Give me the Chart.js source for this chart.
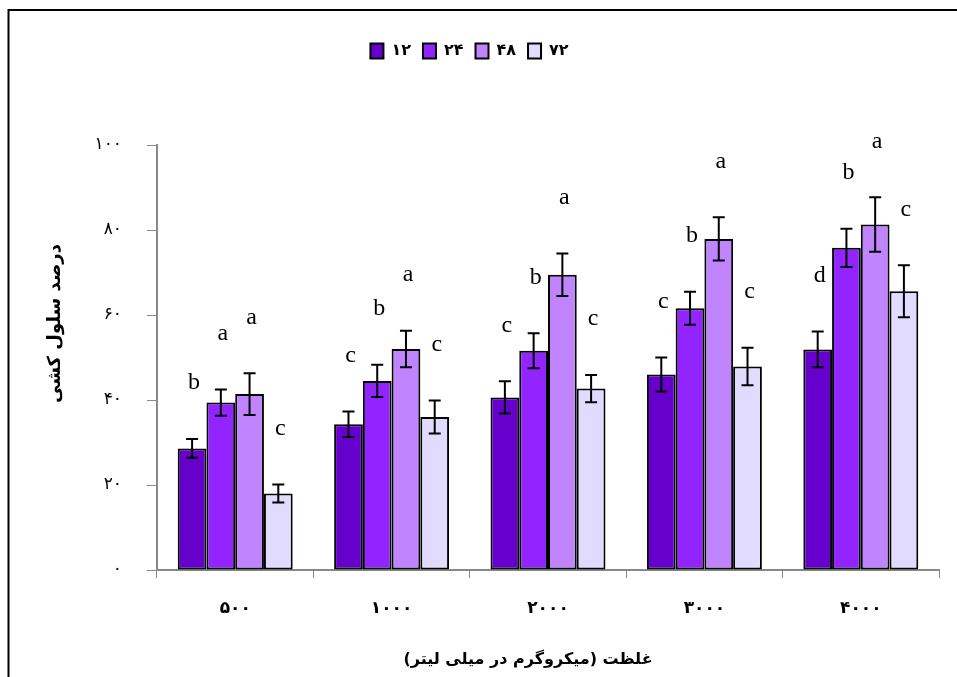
<!DOCTYPE html>
<html>
<head>
<meta charset="utf-8">
<script src="https://cdn.jsdelivr.net/npm/chart.js@4"></script>
<style>
  html, body { margin: 0; padding: 0; background: #fff; }
  #wrap { width: 957px; height: 677px; position: relative; }
</style>
</head>
<body>
<div id="wrap"><canvas id="killChart"></canvas></div>
<script>
// concentrations (x) and exposure times (series)
const concentrations = ["۵۰۰", "۱۰۰۰", "۲۰۰۰", "۳۰۰۰", "۴۰۰۰"];
const hours = ["۱۲", "۲۴", "۴۸", "۷۲"];

// cell kill percent
const kill12 = [28.6, 34.3, 40.6, 46.0, 51.9];
const kill24 = [39.4, 44.5, 51.6, 61.6, 75.8];
const kill48 = [41.4, 52.0, 69.5, 77.9, 81.3];
const kill72 = [18.0, 36.0, 42.7, 47.9, 65.6];

// error bar half-lengths
const err12 = [2.2, 3.0, 3.8, 4.0, 4.2];
const err24 = [3.1, 3.8, 4.1, 3.9, 4.5];
const err48 = [4.9, 4.3, 5.0, 5.1, 6.4];
const err72 = [2.1, 3.9, 3.2, 4.4, 6.1];

// significance letters
const sig12 = ["b", "c", "c", "c", "d"];
const sig24 = ["a", "b", "b", "b", "b"];
const sig48 = ["a", "a", "a", "a", "a"];
const sig72 = ["c", "c", "c", "c", "c"];

const yTickLabels = ["۰", "۲۰", "۴۰", "۶۰", "۸۰", "۱۰۰"];
const yTitle = "درصد سلول کشی";
const xTitle = "غلظت (میکروگرم در میلی لیتر)";

const faFont = '"DejaVu Sans", sans-serif';

// error bars + letters on top of each bar
const errorBars = {
  id: "errorBars",
  afterDatasetsDraw(chart) {
    const ctx = chart.ctx;
    const yScale = chart.scales.y;
    chart.data.datasets.forEach((ds, i) => {
      const meta = chart.getDatasetMeta(i);
      meta.data.forEach((bar, j) => {
        const v = ds.data[j];
        const e = ds.errors[j];
        const top = yScale.getPixelForValue(v + e);
        const bot = yScale.getPixelForValue(v - e);
        ctx.save();
        ctx.strokeStyle = "#000";
        ctx.lineWidth = 2;
        ctx.beginPath();
        ctx.moveTo(bar.x, top);
        ctx.lineTo(bar.x, bot);
        ctx.moveTo(bar.x - 6, top);
        ctx.lineTo(bar.x + 6, top);
        ctx.moveTo(bar.x - 6, bot);
        ctx.lineTo(bar.x + 6, bot);
        ctx.stroke();
        ctx.fillStyle = "#000";
        ctx.font = '24px "Liberation Serif", serif';
        ctx.textAlign = "center";
        ctx.textBaseline = "middle";
        ctx.fillText(ds.letters[j], bar.x + 2, top - 56);
        ctx.restore();
      });
    });
  },
};

// axis titles and the frame lines
const decorations = {
  id: "decorations",
  afterDraw(chart) {
    const ctx = chart.ctx;
    const area = chart.chartArea;
    ctx.save();
    ctx.strokeStyle = "#000";
    ctx.lineWidth = 2;
    ctx.beginPath();
    ctx.moveTo(8.5, chart.height);
    ctx.lineTo(8.5, 10);
    ctx.lineTo(chart.width, 10);
    ctx.stroke();

    ctx.fillStyle = "#000";
    ctx.textAlign = "center";
    ctx.textBaseline = "middle";
    ctx.font = "bold 16px " + faFont;
    ctx.fillText(xTitle, (area.left + area.right) / 2 - 20, 660);

    ctx.translate(55, (area.top + area.bottom) / 2 - 34);
    ctx.rotate(-Math.PI / 2);
    ctx.font = "bold 18px " + faFont;
    ctx.fillText(yTitle, 0, 0);
    ctx.restore();
  },
};

// extra room under the legend
const legendGap = {
  id: "legendGap",
  beforeInit(chart) {
    const fit = chart.legend.fit;
    chart.legend.fit = function () {
      fit.call(this);
      this.height += 76;
    };
  },
};

const ctx = document.getElementById("killChart").getContext("2d");
new Chart(ctx, {
  type: "bar",
  data: {
    labels: concentrations,
    datasets: [
      { label: hours[0], data: kill12, errors: err12, letters: sig12, backgroundColor: "#6600cc" },
      { label: hours[1], data: kill24, errors: err24, letters: sig24, backgroundColor: "#9124ff" },
      { label: hours[2], data: kill48, errors: err48, letters: sig48, backgroundColor: "#c184ff" },
      { label: hours[3], data: kill72, errors: err72, letters: sig72, backgroundColor: "#e1dbff" },
    ].map((d) => ({
      ...d,
      borderColor: "#000",
      borderWidth: 2,
      borderSkipped: false,
      categoryPercentage: 0.735,
      barPercentage: 1,
    })),
  },
  options: {
    responsive: true,
    maintainAspectRatio: false,
    animation: false,
    layout: { padding: { top: 31, right: 18, left: 0, bottom: 0 } },
    plugins: {
      legend: {
        position: "top",
        labels: {
          boxWidth: 13,
          boxHeight: 15,
          padding: 12,
          color: "#000",
          font: { family: faFont, size: 16, weight: "bold" },
        },
      },
      tooltip: { enabled: false },
    },
    scales: {
      x: {
        grid: { drawOnChartArea: false, drawTicks: true, tickLength: 8, color: "#888", offset: true },
        border: { color: "#888", width: 2 },
        ticks: { color: "#000", padding: 20, font: { family: faFont, size: 17, weight: "bold" } },
        afterFit(scale) { scale.height = 107; },
      },
      y: {
        min: 0,
        max: 100,
        grid: { drawOnChartArea: false, drawTicks: true, tickLength: 10, color: "#888" },
        border: { color: "#888", width: 2 },
        ticks: {
          stepSize: 20,
          padding: 25,
          color: "#000",
          font: { family: faFont, size: 17 },
          callback: (v, i) => yTickLabels[i],
        },
        afterFit(scale) { scale.width = 157; },
      },
    },
  },
  plugins: [errorBars, decorations, legendGap],
});
</script>
</body>
</html>
